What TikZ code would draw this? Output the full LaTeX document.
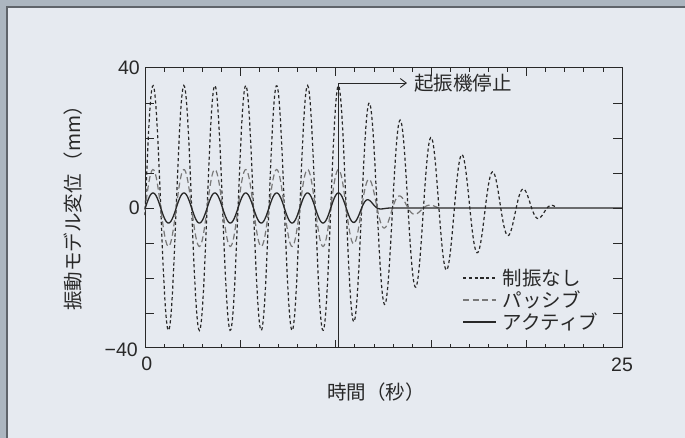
\documentclass[tikz,border=0pt]{standalone}
\usepackage{fontspec}
\setmainfont{Liberation Sans}
\newfontfamily\jp{Noto Sans CJK JP}
\usetikzlibrary{arrows.meta}
\definecolor{frame}{RGB}{172,182,192}
\definecolor{panel}{RGB}{230,234,240}
\definecolor{ink}{RGB}{40,40,40}
\definecolor{passivegray}{RGB}{120,120,120}

\begin{document}
\begin{tikzpicture}[x=1pt,y=1pt,
    lbl/.style={font=\fontsize{19.5}{22}\selectfont, text=ink, inner sep=0pt},
    jlbl/.style={font=\jp\fontsize{19.5}{22}\selectfont, text=ink, inner sep=0pt},
    undamped/.style={ink, line width=1.2pt, dash pattern=on 3.2pt off 2.6pt},
    passive/.style={passivegray, line width=1.2pt, dash pattern=on 6pt off 3.5pt},
    active/.style={ink, line width=1.3pt},
    ]
\useasboundingbox (0,0) rectangle (685,438);
\fill[frame] (0,0) rectangle (685,438);
\fill[panel] (7,0) rectangle (685,431);
\draw[frame!55!black, line width=1.4pt] (7,0) -- (7,431) -- (685,431);

\begin{scope}[shift={(145,230)}, x=19.08pt, y=3.5pt]
\draw[ink, line width=1pt] (0,-40) rectangle (25,40);
%ticks
\foreach \t in {1,...,24} {
  \draw[ink, line width=0.8pt] (\t,-40) -- ++(0,4pt);
  \draw[ink, line width=0.8pt] (\t,40) -- ++(0,-4pt);
}
\foreach \t in {5,10,15,20} {
  \draw[ink, line width=0.8pt] (\t,-40) -- ++(0,8pt);
  \draw[ink, line width=0.8pt] (\t,40) -- ++(0,-8pt);
}
\foreach \v in {-30,-20,...,30} {
  \draw[ink, line width=0.8pt] (0,\v) -- ++(9pt,0);
  \draw[ink, line width=0.8pt] (25,\v) -- ++(-9pt,0);
}
\node[lbl, anchor=east] (ytop) at ([xshift=-5pt]0,40) {40};
\node[lbl, anchor=east] (ymid) at ([xshift=-5pt]0,0) {0};
\node[lbl, anchor=east] (ybot) at ([xshift=-7pt,yshift=-2pt]0,-40) {−40};
\node[lbl, anchor=north] (xleft) at ([yshift=-9pt]0.1,-40) {0};
\node[lbl, anchor=north] (xright) at ([yshift=-10pt]25,-40) {25};
\node[jlbl] (xtitle) at (12.1,-52.6) {時間（秒）};
\node[jlbl, rotate=90] (ytitle) at (-3.77,1.3) {振動モデル変位\,（mm）};

%curves
\draw[undamped] plot[domain=0:21.6, samples=500, smooth]
  (\x,{35*min(1,(21.63-\x)/11.5)*cos(360*(\x-0.42)/1.62)});
\draw[passive] plot[domain=0:15.5, samples=300, smooth]
  (\x,{11*exp(-(max(0,\x-10.13)/3)*(max(0,\x-10.13)/3))*cos(360*(\x-0.42)/1.62)});
\draw[active] plot[domain=0:14, samples=300, smooth]
  (\x,{4.3*exp(-pow(max(0,\x-10.13)/1.8,4))*cos(360*(\x-0.42)/1.62)}) -- (25,0);

%stop marker
\coordinate (stopbot) at (10.13,-40);
\coordinate (stoptop) at (10.13,35.7);
\coordinate (stopend) at (13.73,35.7);
\draw[ink, line width=1pt] (stopbot) -- (stoptop);
\draw[ink, line width=0.9pt, -{Straight Barb[length=6pt,width=9pt]}] (stoptop) -- (stopend);
\node[jlbl, anchor=west] (stoptext) at ([xshift=7pt]stopend) {起振機停止};

%legend
\foreach \sty/\txt [count=\i] in {undamped/制振なし, passive/パッシブ, active/アクティブ} {
  \coordinate (lg\i) at (16.67,{-20-6.3*(\i-1)});
  \draw[\sty] (lg\i) -- ++(1.7,0) coordinate (lge\i);
  \node[jlbl, anchor=west] (leg\i) at ([xshift=7pt]lge\i) {\txt};
}
\end{scope}
\end{tikzpicture}
\end{document}
